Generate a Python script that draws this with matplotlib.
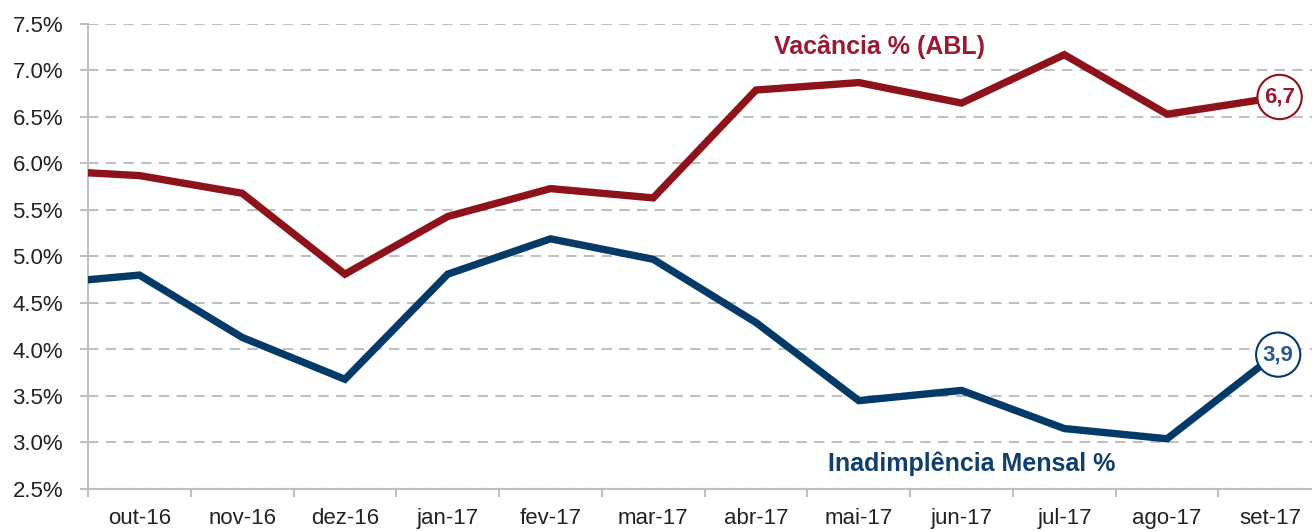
import numpy as np
import matplotlib
matplotlib.use("Agg")
import matplotlib.pyplot as plt
from matplotlib.ticker import FixedLocator, FuncFormatter

plt.rcParams["font.family"] = ["Liberation Sans", "DejaVu Sans"]

# ----------------------------------------------------
# Data (set-16 sits just left of the axis and gets clipped)
# ----------------------------------------------------

months = [
    "set-16", "out-16", "nov-16", "dez-16", "jan-17", "fev-17", "mar-17",
    "abr-17", "mai-17", "jun-17", "jul-17", "ago-17", "set-17",
]

vacancia = [5.93, 5.87, 5.68, 4.81, 5.43, 5.73, 5.63,
            6.79, 6.87, 6.65, 7.17, 6.53, 6.70]

inadimplencia = [4.70, 4.80, 4.13, 3.68, 4.81, 5.19, 4.97,
                 4.29, 3.45, 3.56, 3.15, 3.04, 3.90]

y_ticks = [2.5, 3.0, 3.5, 4.0, 4.5, 5.0, 5.5, 6.0, 6.5, 7.0, 7.5]

red = "#8e1219"
red_text = "#9a1a35"
blue = "#033a68"
blue_text = "#0f3f6e"
grid_gray = "#c0c0c0"

# ----------------------------------------------------
# Figure
# ----------------------------------------------------

fig = plt.figure(figsize=(13.12, 5.31), dpi=100)
ax = fig.add_axes([88 / 1312, 42 / 531, 1 - 88 / 1312, (489 - 24) / 531])

x = np.arange(len(months)) - 1

ax.plot(x, vacancia, color=red, lw=5.3, solid_joinstyle="miter", zorder=3)
ax.plot(x, inadimplencia, color=blue, lw=5.3, solid_joinstyle="miter", zorder=3)

ax.set_xlim(-0.5, 11.41)
ax.set_ylim(2.5, 7.5)

# ----------------------------------------------------
# Axes styling
# ----------------------------------------------------

for side in ["top", "right"]:
    ax.spines[side].set_visible(False)
for side in ["left", "bottom"]:
    ax.spines[side].set_color(grid_gray)
    ax.spines[side].set_linewidth(1.5)

ax.yaxis.set_major_locator(FixedLocator(y_ticks))
ax.yaxis.set_major_formatter(FuncFormatter(lambda v, _: f"{v:.1f}%"))
ax.tick_params(axis="y", length=6, width=1.5, color=grid_gray, pad=12,
               labelsize=16, labelcolor="#222222")

# boundary ticks (major) and centred labels (minor)
ax.xaxis.set_major_locator(FixedLocator(np.arange(-0.5, 11, 1.0)))
ax.xaxis.set_major_formatter(FuncFormatter(lambda v, _: ""))
ax.xaxis.set_minor_locator(FixedLocator(x[1:]))
ax.set_xticklabels(months[1:], minor=True)
ax.tick_params(axis="x", which="major", length=6, width=1.5, color=grid_gray)
ax.tick_params(axis="x", which="minor", length=0, pad=14,
               labelsize=16, labelcolor="#222222")

ax.grid(axis="y", color=grid_gray, lw=1.5, linestyle=(0, (5, 3.5)), zorder=0)
ax.set_axisbelow(True)

# ----------------------------------------------------
# Series labels and end values
# ----------------------------------------------------

ax.text(7.2, 7.25, "Vacância % (ABL)", color=red_text, fontsize=18,
        fontweight="bold", ha="center", va="center")
ax.text(8.1, 2.77, "Inadimplência Mensal %", color=blue_text, fontsize=18,
        fontweight="bold", ha="center", va="center")

ax.annotate("6,7", xy=(x[-1], vacancia[-1]), xytext=(7, 1),
            textcoords="offset points", ha="center", va="center",
            fontsize=16, fontweight="bold", color=red_text, zorder=5,
            bbox=dict(boxstyle="circle,pad=0.3", fc="white", ec=red, lw=1.5))
ax.annotate("3,9", xy=(x[-1], inadimplencia[-1]), xytext=(6, 3),
            textcoords="offset points", ha="center", va="center",
            fontsize=16, fontweight="bold", color="#2a5a8c", zorder=5,
            bbox=dict(boxstyle="circle,pad=0.3", fc="white", ec=blue, lw=1.5))

fig.savefig("out.png", dpi=100)
